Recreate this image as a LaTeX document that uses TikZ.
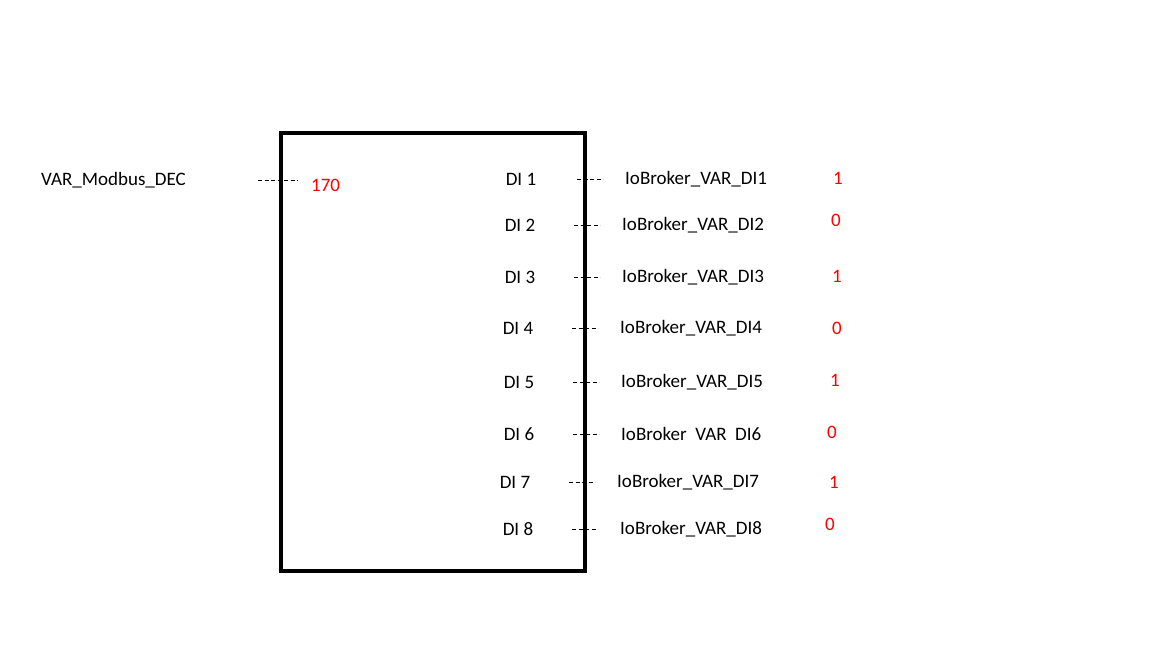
\documentclass[tikz,border=0pt]{standalone}
\usepackage{fontspec}
\setmainfont{Carlito}
\begin{document}
\begin{tikzpicture}[x=1pt,y=-1pt,
  lbl/.style={font=\fontsize{19}{22}\selectfont, inner sep=0pt},
  val/.style={font=\fontsize{19}{22}\selectfont, text=red, inner sep=0pt},
  wire/.style={line width=1pt, dash pattern=on 4pt off 2.5pt}]
\useasboundingbox (0,0) rectangle (1152,648);
\draw[line width=4pt] (281,133) rectangle (585,571);
\node[lbl, anchor=west] (src) at (41,180) {VAR\_Modbus\_DEC};
\coordinate (sa) at (258,180); \coordinate (sb) at (298,180);
\draw[wire] (sa) -- (sb);
\node[val, anchor=west] (v0) at (311,185) {170};
\foreach \i/\dx/\y/\lx/\v/\vx/\vy/\nm in {
 1/521/179/625/1/838/178/IoBroker\_VAR\_DI1,
 2/520/225/622/0/836/220/IoBroker\_VAR\_DI2,
 3/520/277/622/1/837/276/IoBroker\_VAR\_DI3,
 4/518/328/620/0/837/328/IoBroker\_VAR\_DI4,
 5/519/382/621/1/835/380/IoBroker\_VAR\_DI5,
 6/519/434/621/0/832/432/IoBroker\ \ VAR\ \ DI6,
 7/515/482/617/1/834/482/IoBroker\_VAR\_DI7,
 8/518/529/620/0/830/524/IoBroker\_VAR\_DI8}{
  \node[lbl] (di\i) at (\dx,\y) {DI \i};
  \node[lbl, anchor=west] (io\i) at (\lx,\y) {\nm};
  \node[val] (v\i) at (\vx,\vy) {\v};
  \coordinate (wa\i) at (\lx-48,\y);
  \coordinate (wb\i) at (\lx-22,\y);
  \draw[wire] (wa\i) -- (wb\i);
}
\end{tikzpicture}
\end{document}
